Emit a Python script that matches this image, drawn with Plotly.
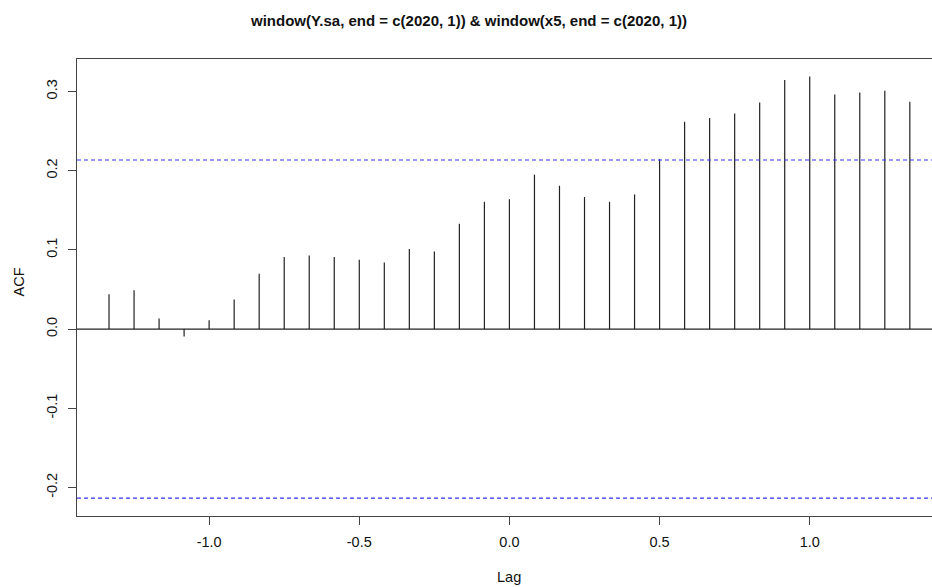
import plotly.graph_objects as go

# Data
lag_steps = list(range(-16, 17))
lags = [k / 12 for k in lag_steps]
acf_values = [0.044, 0.049, 0.0135, -0.0093, 0.011, 0.0375, 0.070, 0.091, 0.093,
              0.091, 0.0875, 0.084, 0.101, 0.098, 0.133, 0.1607, 0.164, 0.195,
              0.181, 0.1667, 0.1607, 0.170, 0.2146, 0.2618, 0.2664, 0.2723,
              0.2862, 0.3144, 0.319, 0.2963, 0.2988, 0.3009, 0.287]
ci_bound = 0.2135
title_text = "window(Y.sa, end = c(2020, 1)) & window(x5, end = c(2020, 1))"
x_ticks = [-1.0, -0.5, 0.0, 0.5, 1.0]
x_tick_labels = ["-1.0", "-0.5", "0.0", "0.5", "1.0"]
y_ticks = [-0.2, -0.1, 0.0, 0.1, 0.2, 0.3]
y_tick_labels = ["-0.2", "-0.1", "0.0", "0.1", "0.2", "0.3"]

W, H = 932, 587
L, T, B = 77, 59, 71
x_range = [-1.44, -1.44 + (W - L) / 300.3]
y_range = [-0.236, 0.341]

seg_x, seg_y = [], []
for lg, v in zip(lags, acf_values):
    seg_x += [lg, lg, None]
    seg_y += [0, v, None]

fig = go.Figure()
fig.add_trace(go.Scatter(x=seg_x, y=seg_y, mode="lines",
                         line=dict(color="#222222", width=1.2),
                         hoverinfo="skip", showlegend=False))
for yv in (ci_bound, -ci_bound):
    fig.add_trace(go.Scatter(x=x_range, y=[yv, yv], mode="lines",
                             line=dict(color="#3333ff", width=1.2, dash="4px,3px"),
                             hoverinfo="skip", showlegend=False))
fig.add_trace(go.Scatter(x=x_range, y=[0, 0], mode="lines",
                         line=dict(color="#222222", width=1.2),
                         hoverinfo="skip", showlegend=False))

font = dict(family="Liberation Sans, Arial, sans-serif", color="#111111")
fig.update_layout(
    width=W, height=H,
    margin=dict(l=L, r=0, t=T, b=B, pad=0),
    paper_bgcolor="white", plot_bgcolor="white",
    font=dict(size=14, **font),
    showlegend=False,
    xaxis=dict(range=x_range, tickvals=x_ticks, ticktext=x_tick_labels,
               showgrid=False, zeroline=False, showline=True, mirror=True,
               linecolor="#444444", linewidth=1.2,
               ticks="outside", ticklen=8, tickcolor="#444444", tickwidth=1.2,
               ticklabelstandoff=4,
               tickfont=dict(size=14.5, **font)),
    yaxis=dict(range=y_range, tickvals=y_ticks, ticktext=y_tick_labels,
               showgrid=False, zeroline=False, showline=True, mirror=False,
               linecolor="#444444", linewidth=1.2,
               ticks="outside", ticklen=8, tickcolor="#444444", tickwidth=1.2,
               ticklabelstandoff=5,
               tickangle=-90, tickfont=dict(size=14.5, **font)),
    annotations=[
        dict(text="<b>" + title_text + "</b>", xref="paper", yref="paper",
             x=(468 - L) / (W - L), y=1, yshift=39, xanchor="center", yanchor="middle",
             showarrow=False, font=dict(size=15, **font)),
        dict(text="Lag", xref="x", yref="paper", x=0.0, y=0, yshift=-61,
             xanchor="center", yanchor="middle", showarrow=False,
             font=dict(size=14.5, **font)),
        dict(text="ACF", xref="paper", yref="paper", x=0, xshift=-59, y=0.5,
             yshift=5, xanchor="center", yanchor="middle", textangle=-90,
             showarrow=False, font=dict(size=14.5, **font)),
    ],
)

fig.write_html("out.html")
